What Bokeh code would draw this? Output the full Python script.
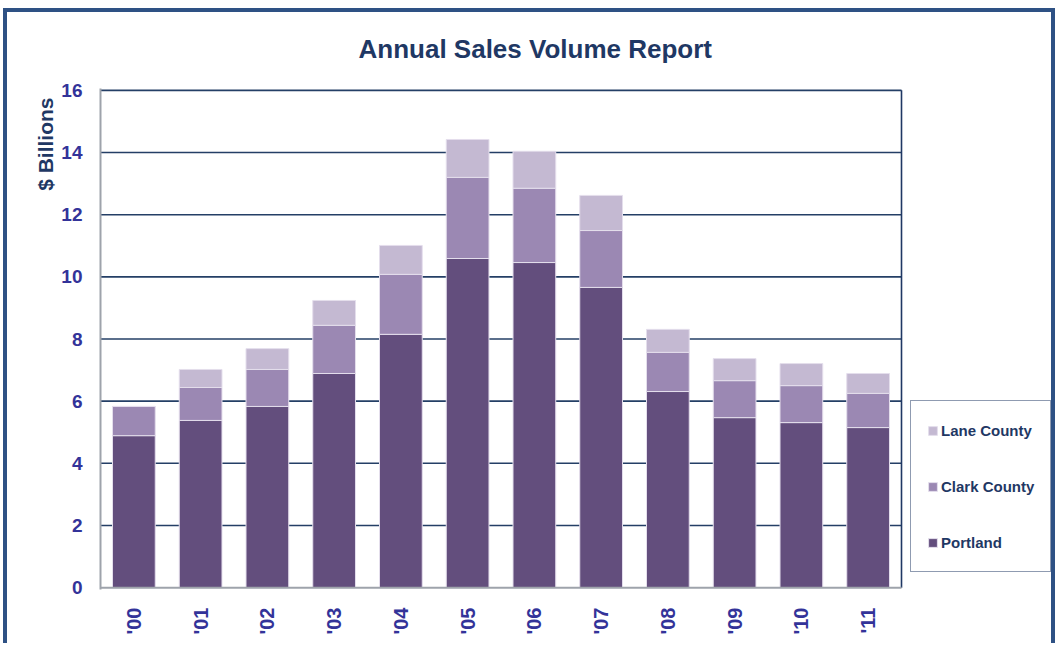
import math
from bokeh.plotting import figure
from bokeh.models import (ColumnDataSource, Range1d, FixedTicker, Legend, LegendItem, Title)
from bokeh.embed import file_html
from bokeh.resources import INLINE

years = ["'00", "'01", "'02", "'03", "'04", "'05", "'06", "'07", "'08", "'09", "'10", "'11"]
portland = [4.89, 5.38, 5.83, 6.89, 8.15, 10.59, 10.46, 9.66, 6.31, 5.47, 5.31, 5.15]
clark = [0.94, 1.06, 1.19, 1.55, 1.93, 2.61, 2.39, 1.83, 1.26, 1.19, 1.19, 1.10]
lane = [0.0, 0.58, 0.67, 0.80, 0.93, 1.22, 1.19, 1.13, 0.74, 0.71, 0.71, 0.64]
series = ["Portland", "Clark County", "Lane County"]
colors = ["#634E7D", "#9B88B3", "#C4B9D2"]
y_ticks = [0, 2, 4, 6, 8, 10, 12, 14, 16]

NAVY = "#1F3864"
TICK = "#333399"
BORDER = "#2E5184"
GRID = "#243F66"
AXIS = "#9EA3AB"
FONT = "Liberation Sans"

n = len(years)
xs = [i + 0.5 for i in range(n)]
src = ColumnDataSource(dict(x=xs, Portland=portland, **{"Clark County": clark, "Lane County": lane}))

W, H = 1052, 635
MB_L, MB_R, MB_T, MB_B = 93, 0, 76, 58
frame_w = W - MB_L - MB_R
cat_px = 66.75
p = figure(x_range=Range1d(0, frame_w / cat_px), y_range=Range1d(-0.06, 16.06),
           width=W, height=H, output_backend="svg", toolbar_location=None, title=None,
           min_border_left=MB_L, min_border_right=MB_R, min_border_top=MB_T, min_border_bottom=MB_B)
p.styles = {"margin-left": "3px", "margin-top": "8px",
            "border-top": f"4px solid {BORDER}", "border-left": f"4px solid {BORDER}",
            "border-right": f"4px solid {BORDER}"}

p.outline_line_color = None
p.xgrid.grid_line_color = None
p.ygrid.grid_line_color = None

# horizontal grid lines across the category area only
p.segment(x0=[0] * (len(y_ticks) - 1), x1=[n] * (len(y_ticks) - 1),
          y0=y_ticks[1:], y1=y_ticks[1:], line_color=GRID, line_width=1.6)

renderers = p.vbar_stack(series, x="x", width=0.64, source=src, color=colors,
                         line_color="#E4DEEC", line_width=1)

# right frame edge and bottom axis line
p.segment(x0=[n], x1=[n], y0=[y_ticks[0]], y1=[y_ticks[-1]], line_color=NAVY, line_width=1.6)
p.segment(x0=[0], x1=[n], y0=[y_ticks[0]], y1=[y_ticks[0]], line_color=AXIS, line_width=2)

# spacer (closest to the frame), then the main title above it
p.add_layout(Title(text=" ", standoff=7, text_font=FONT, text_font_size="10px"), "above")
p.add_layout(Title(text="Annual Sales Volume Report", align="left", offset=258, standoff=10,
                   text_font=FONT, text_font_style="bold", text_font_size="26px",
                   text_color=NAVY), "above")

p.yaxis.ticker = FixedTicker(ticks=y_ticks)
p.xaxis.ticker = FixedTicker(ticks=xs)
p.xaxis.major_label_overrides = {x: y for x, y in zip(xs, years)}

for ax in (p.xaxis[0], p.yaxis[0]):
    ax.major_tick_line_color = None
    ax.minor_tick_line_color = None
    ax.major_label_text_font = FONT
    ax.major_label_text_font_style = "bold"
    ax.major_label_text_color = TICK

p.xaxis.axis_line_color = None
p.yaxis.axis_line_color = AXIS
p.yaxis.axis_line_width = 2
p.yaxis.major_label_text_font_size = "19px"
p.yaxis.major_label_standoff = 12

p.add_layout(Title(text="$ Billions", align="right", offset=9, standoff=4,
                   text_font=FONT, text_font_style="bold", text_font_size="21px",
                   text_color=NAVY), "left")

p.xaxis.major_label_text_font_size = "20px"
p.xaxis.major_label_orientation = math.pi / 2
p.xaxis.major_label_standoff = 12

items = [LegendItem(label=s, renderers=[r]) for s, r in zip(series, renderers)]
legend = Legend(items=items[::-1], location=(810, 17), orientation="vertical",
                label_text_font=FONT, label_text_font_style="bold", label_text_font_size="15px",
                label_text_color=NAVY, glyph_width=11, glyph_height=11, label_height=26,
                label_standoff=3, spacing=30, padding=16, margin=0,
                border_line_color=NAVY, border_line_width=1.5, background_fill_alpha=1)
p.add_layout(legend, "center")

open("out.html", "w").write(file_html(p, INLINE))
